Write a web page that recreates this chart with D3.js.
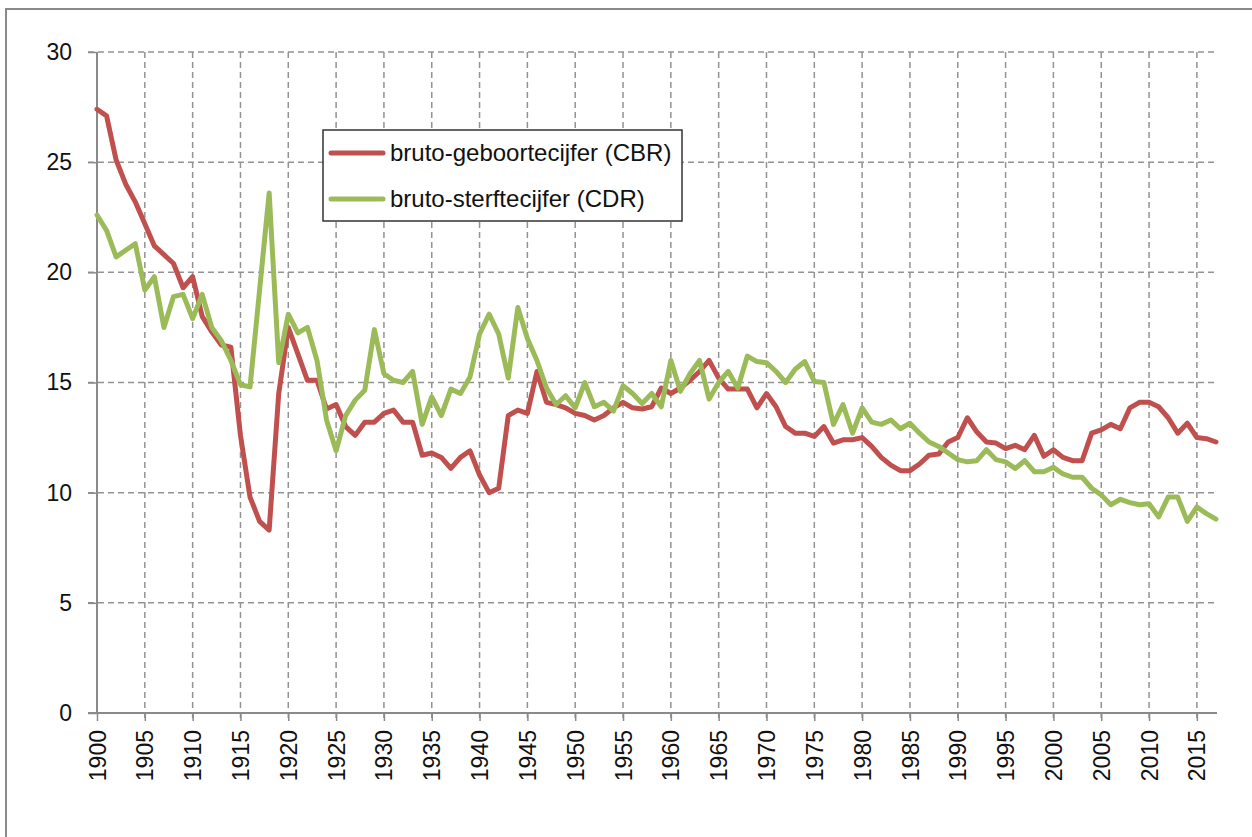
<!DOCTYPE html>
<html>
<head>
<meta charset="utf-8">
<script src="https://cdn.jsdelivr.net/npm/d3@7"></script>
<style>
  html, body { margin: 0; padding: 0; background: #fff; }
  svg { display: block; }
  text { font-family: "Liberation Sans", Arial, sans-serif; fill: #111; }
</style>
</head>
<body>
<svg id="chart" width="1252" height="837"></svg>
<script>
const years = d3.range(1900, 2018);
const cbr = [27.4, 27.1, 25.1, 24.0, 23.2, 22.2, 21.2, 20.8, 20.4, 19.3,
  19.8, 18.0, 17.3, 16.7, 16.6, 12.6, 9.8, 8.7, 8.3, 14.5,
  17.5, 16.3, 15.1, 15.1, 13.8, 14.0, 13.0, 12.6, 13.2, 13.2,
  13.6, 13.75, 13.2, 13.2, 11.7, 11.8, 11.6, 11.1, 11.6, 11.9,
  10.8, 10.0, 10.2, 13.5, 13.75, 13.6, 15.5, 14.1, 14.0, 13.85,
  13.6, 13.5, 13.3, 13.5, 13.85, 14.1, 13.85, 13.8, 13.9, 14.75,
  14.5, 14.75, 15.1, 15.5, 16.0, 15.2, 14.7, 14.7, 14.7, 13.85,
  14.5, 13.9, 13.0, 12.7, 12.7, 12.55, 13.0, 12.25, 12.4, 12.4,
  12.5, 12.1, 11.6, 11.25, 11.0, 11.0, 11.3, 11.7, 11.75, 12.3,
  12.5, 13.4, 12.75, 12.3, 12.25, 12.0, 12.15, 11.95, 12.6, 11.65,
  11.95, 11.6, 11.45, 11.45, 12.7, 12.85, 13.1, 12.9, 13.85, 14.1,
  14.1, 13.9, 13.4, 12.7, 13.15, 12.5, 12.45, 12.3];
const cdr = [22.6, 21.9, 20.7, 21.0, 21.3, 19.2, 19.8, 17.5, 18.9, 19.0,
  17.9, 19.0, 17.5, 16.9, 16.0, 14.9, 14.8, 19.2, 23.6, 15.9,
  18.1, 17.25, 17.5, 16.0, 13.3, 11.9, 13.5, 14.2, 14.65, 17.4,
  15.4, 15.1, 15.0, 15.5, 13.1, 14.35, 13.5, 14.7, 14.5, 15.25,
  17.2, 18.1, 17.2, 15.2, 18.4, 17.0, 16.0, 14.75, 14.0, 14.4,
  13.85, 15.0, 13.9, 14.1, 13.7, 14.85, 14.5, 14.05, 14.5, 13.9,
  16.0, 14.6, 15.4, 16.0, 14.25, 15.0, 15.5, 14.75, 16.2, 15.95,
  15.9, 15.5, 15.0, 15.6, 15.95, 15.05, 15.0, 13.1, 14.0, 12.7,
  13.85, 13.2, 13.1, 13.3, 12.9, 13.15, 12.7, 12.3, 12.1, 11.8,
  11.5, 11.4, 11.45, 11.95, 11.5, 11.4, 11.1, 11.45, 10.95, 10.95,
  11.15, 10.85, 10.7, 10.7, 10.2, 9.9, 9.45, 9.7, 9.55, 9.45,
  9.5, 8.9, 9.8, 9.8, 8.7, 9.35, 9.05, 8.8];
const yTicks = [0, 5, 10, 15, 20, 25, 30];
const xTicks = d3.range(1900, 2016, 5);
const seriesNames = ["bruto-geboortecijfer (CBR)", "bruto-sterftecijfer (CDR)"];
const seriesColors = ["#C0504D", "#9BBB59"];

const svg = d3.select("#chart");
const pLeft = 97, pRight = 1216, pTop = 52, pBottom = 713;
const x = d3.scaleLinear().domain([1900, 2017]).range([pLeft, pRight]);
const y = d3.scaleLinear().domain([0, 30]).range([pBottom, pTop]);

// outer frame
svg.append("rect").attr("x", 6).attr("y", 9).attr("width", 1260).attr("height", 840)
  .attr("fill", "none").attr("stroke", "#8a8a8a").attr("stroke-width", 2);

// horizontal gridlines
svg.append("g").selectAll("line").data(yTicks.filter(d => d > 0)).join("line")
  .attr("x1", 88).attr("x2", 1217).attr("y1", d => y(d)).attr("y2", d => y(d))
  .attr("stroke", "#939393").attr("stroke-width", 1.5).attr("stroke-dasharray", "6,4");
// vertical gridlines
svg.append("g").selectAll("line").data(xTicks.filter(d => d > 1900)).join("line")
  .attr("x1", d => x(d)).attr("x2", d => x(d)).attr("y1", pTop).attr("y2", pBottom + 8)
  .attr("stroke", "#939393").attr("stroke-width", 1.5).attr("stroke-dasharray", "6,4");

// axes
const yAxis = d3.axisLeft(y).tickValues(yTicks).tickSize(9).tickPadding(16);
const gy = svg.append("g").attr("transform", `translate(${pLeft},0)`).call(yAxis);
gy.select(".domain").attr("stroke", "#8a8a8a").attr("stroke-width", 2).attr("d", `M0,${pTop}V${pBottom}`);
gy.selectAll(".tick line").attr("stroke", "#8a8a8a").attr("stroke-width", 1.5);
gy.selectAll(".tick text").attr("font-size", 23).style("font-family", "'Liberation Sans', Arial, sans-serif").attr("fill", "#111");

const xAxis = d3.axisBottom(x).tickValues(xTicks).tickSize(8).tickFormat(d3.format("d"));
const gx = svg.append("g").attr("transform", `translate(0,${pBottom})`).call(xAxis);
gx.select(".domain").attr("stroke", "#8a8a8a").attr("stroke-width", 2).attr("d", `M88,0H1217`);
gx.selectAll(".tick line").attr("stroke", "#8a8a8a").attr("stroke-width", 1.5);
gx.selectAll(".tick text")
  .attr("font-size", 23).style("font-family", "'Liberation Sans', Arial, sans-serif").attr("fill", "#111")
  .attr("text-anchor", "end").attr("dy", "0.35em")
  .attr("transform", "translate(0,17) rotate(-90)").attr("x", 0).attr("y", 0);

// lines
const line = d3.line().x((d, i) => x(years[i])).y(d => y(d));
[cbr, cdr].forEach((s, k) => {
  svg.append("path").datum(s).attr("d", line).attr("fill", "none")
    .attr("stroke", seriesColors[k]).attr("stroke-width", 5)
    .attr("stroke-linejoin", "round").attr("stroke-linecap", "round");
});

// legend
const lg = svg.append("g");
lg.append("rect").attr("x", 323).attr("y", 130).attr("width", 359).attr("height", 91)
  .attr("fill", "#fff").attr("stroke", "#333").attr("stroke-width", 1.5);
seriesNames.forEach((n, k) => {
  const ly = 153 + k * 46;
  lg.append("line").attr("x1", 331).attr("x2", 383).attr("y1", ly).attr("y2", ly)
    .attr("stroke", seriesColors[k]).attr("stroke-width", 5).attr("stroke-linecap", "round");
  lg.append("text").attr("x", 390).attr("y", ly).attr("dy", "0.35em")
    .attr("font-size", 24).text(n);
});
</script>
</body>
</html>
